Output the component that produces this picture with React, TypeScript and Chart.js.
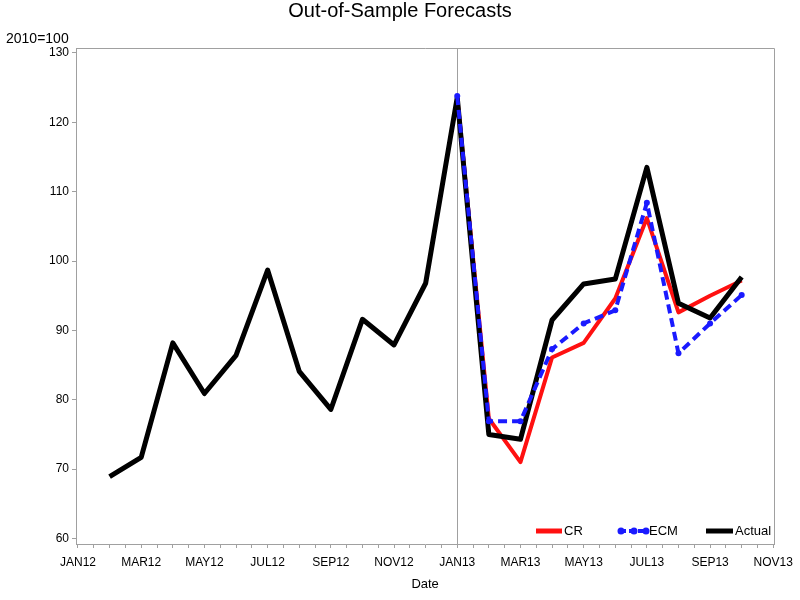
import React, { useEffect, useRef } from "react";
import { Chart, registerables } from "chart.js";

Chart.register(...registerables);

// ---- data ----
const actualMonths = [
  "2012-02", "2012-03", "2012-04", "2012-05", "2012-06", "2012-07", "2012-08",
  "2012-09", "2012-10", "2012-11", "2012-12", "2013-01", "2013-02", "2013-03",
  "2013-04", "2013-05", "2013-06", "2013-07", "2013-08", "2013-09", "2013-10",
];
const actualValues = [
  68.9, 71.7, 88.2, 80.9, 86.4, 98.7, 84.1, 78.6, 91.6, 87.9, 96.8,
  123.6, 75.0, 74.3, 91.5, 96.7, 97.4, 113.5, 93.9, 91.8, 97.7,
];
const forecastMonths = [
  "2013-01", "2013-02", "2013-03", "2013-04", "2013-05", "2013-06",
  "2013-07", "2013-08", "2013-09", "2013-10",
];
const crValues = [123.6, 77.3, 71.0, 86.1, 88.2, 94.6, 106.2, 92.6, 95.0, 97.2];
const ecmValues = [123.8, 76.9, 76.9, 87.3, 91.0, 92.9, 108.4, 86.7, 91.0, 95.1];

const xTickLabels = [
  "JAN12", "MAR12", "MAY12", "JUL12", "SEP12", "NOV12",
  "JAN13", "MAR13", "MAY13", "JUL13", "SEP13", "NOV13",
];
const yTickValues = [60, 70, 80, 90, 100, 110, 120, 130];
const forecastStart = "2013-01";

const titleText = "Out-of-Sample Forecasts";
const yUnitText = "2010=100";
const xTitleText = "Date";
const legendItems = ["CR", "ECM", "Actual"];

// month index relative to JAN12
const monthIndex = (m: string) => {
  const [y, mo] = m.split("-").map(Number);
  return (y - 2012) * 12 + (mo - 1);
};

const FONT = "'Liberation Sans', Arial, sans-serif";
const GRAY = "#a0a0a0";
const RED = "#ff1010";
const BLUE = "#1a1aff";

const overlayPlugin = {
  id: "overlay",
  beforeDatasetsDraw(chart: any) {
    const { ctx, chartArea, scales } = chart;
    const x = Math.round(scales.x.getPixelForValue(monthIndex(forecastStart))) + 0.5;
    ctx.save();
    ctx.strokeStyle = GRAY;
    ctx.lineWidth = 1;
    ctx.beginPath();
    ctx.moveTo(x, chartArea.top);
    ctx.lineTo(x, chartArea.bottom);
    ctx.stroke();
    ctx.restore();
  },
  afterDraw(chart: any) {
    const { ctx, chartArea } = chart;
    ctx.save();
    // frame top & right
    ctx.strokeStyle = GRAY;
    ctx.lineWidth = 1;
    ctx.beginPath();
    ctx.moveTo(chartArea.left, Math.round(chartArea.top) + 0.5);
    ctx.lineTo(Math.round(chartArea.right) + 0.5, Math.round(chartArea.top) + 0.5);
    ctx.lineTo(Math.round(chartArea.right) + 0.5, chartArea.bottom);
    ctx.stroke();

    // title
    ctx.fillStyle = "#000";
    ctx.textAlign = "center";
    ctx.textBaseline = "middle";
    ctx.font = `20px ${FONT}`;
    ctx.fillText(titleText, 400, 11);

    // unit label
    ctx.textAlign = "left";
    ctx.font = `14px ${FONT}`;
    ctx.fillText(yUnitText, 6, 39);

    // legend
    const ly = chartArea.bottom - 13;
    ctx.font = `13px ${FONT}`;
    ctx.textBaseline = "middle";
    // CR
    ctx.strokeStyle = RED;
    ctx.lineWidth = 5;
    ctx.beginPath();
    ctx.moveTo(536, ly);
    ctx.lineTo(562, ly);
    ctx.stroke();
    ctx.fillText(legendItems[0], 564, ly);
    // ECM
    ctx.strokeStyle = BLUE;
    ctx.lineWidth = 4;
    ctx.setLineDash([6, 3]);
    ctx.beginPath();
    ctx.moveTo(620, ly);
    ctx.lineTo(647, ly);
    ctx.stroke();
    ctx.setLineDash([]);
    ctx.fillStyle = BLUE;
    [621, 634, 646].forEach((cx) => {
      ctx.beginPath();
      ctx.arc(cx, ly, 3.5, 0, Math.PI * 2);
      ctx.fill();
    });
    ctx.fillStyle = "#000";
    ctx.fillText(legendItems[1], 649, ly);
    // Actual
    ctx.strokeStyle = "#000";
    ctx.lineWidth = 5;
    ctx.beginPath();
    ctx.moveTo(706, ly);
    ctx.lineTo(733, ly);
    ctx.stroke();
    ctx.fillText(legendItems[2], 735, ly);
    ctx.restore();
  },
};

export default function App() {
  const ref = useRef<HTMLCanvasElement>(null);

  useEffect(() => {
    if (!ref.current) return;
    const chart = new Chart(ref.current, {
      type: "line",
      data: {
        datasets: [
          {
            label: "ECM",
            data: forecastMonths.map((m, i) => ({ x: monthIndex(m), y: ecmValues[i] })),
            borderColor: BLUE,
            backgroundColor: BLUE,
            borderWidth: 4,
            borderDash: [9, 5],
            pointRadius: 3,
            pointBorderWidth: 0,
            pointBackgroundColor: BLUE,
            borderJoinStyle: "round",
            tension: 0,
          },
          {
            label: "Actual",
            data: actualMonths.map((m, i) => ({ x: monthIndex(m), y: actualValues[i] })),
            borderColor: "#000",
            backgroundColor: "#000",
            borderWidth: 5,
            pointRadius: 0,
            borderJoinStyle: "round",
            tension: 0,
          },
          {
            label: "CR",
            data: forecastMonths.map((m, i) => ({ x: monthIndex(m), y: crValues[i] })),
            borderColor: RED,
            backgroundColor: RED,
            borderWidth: 4,
            pointRadius: 0,
            borderJoinStyle: "round",
            tension: 0,
          },
        ],
      },
      options: {
        animation: false,
        responsive: false,
        events: [],
        layout: { padding: { top: 48, right: 23, bottom: 0, left: 0 } },
        plugins: {
          legend: { display: false },
          title: { display: false },
          tooltip: { enabled: false },
        },
        scales: {
          x: {
            type: "linear",
            min: -0.063,
            max: 22.03,
            afterBuildTicks: (axis: any) => {
              const t = [];
              for (let v = 0; v <= 22; v += 0.5) t.push({ value: v });
              axis.ticks = t;
            },
            afterFit: (axis: any) => {
              axis.height = 56;
            },
            ticks: {
              autoSkip: false,
              maxRotation: 0,
              minRotation: 0,
              padding: 7,
              color: "#000",
              font: { family: FONT, size: 12 },
              callback: (value: any) => {
                const v = Number(value);
                return Number.isInteger(v) && v % 2 === 0 ? xTickLabels[v / 2] : "";
              },
            },
            grid: {
              drawOnChartArea: false,
              drawTicks: true,
              tickLength: 4,
              color: GRAY,
            },
            border: { display: true, color: GRAY },
            title: {
              display: true,
              text: xTitleText,
              color: "#000",
              font: { family: FONT, size: 13 },
              padding: { top: 0, bottom: 8 },
            },
          },
          y: {
            type: "linear",
            min: 59.2,
            max: 130.72,
            afterBuildTicks: (axis: any) => {
              axis.ticks = yTickValues.map((v) => ({ value: v }));
            },
            afterFit: (axis: any) => {
              axis.width = 76;
            },
            ticks: {
              padding: 3,
              color: "#000",
              font: { family: FONT, size: 12 },
            },
            grid: {
              drawOnChartArea: false,
              drawTicks: true,
              tickLength: 4,
              color: GRAY,
            },
            border: { display: true, color: GRAY },
          },
        },
      },
      plugins: [overlayPlugin],
    });
    return () => chart.destroy();
  }, []);

  return (
    <div style={{ position: "fixed", left: 0, top: 0, width: 800, height: 600, background: "#fff" }}>
      <canvas ref={ref} width={800} height={600} style={{ display: "block" }} />
    </div>
  );
}
